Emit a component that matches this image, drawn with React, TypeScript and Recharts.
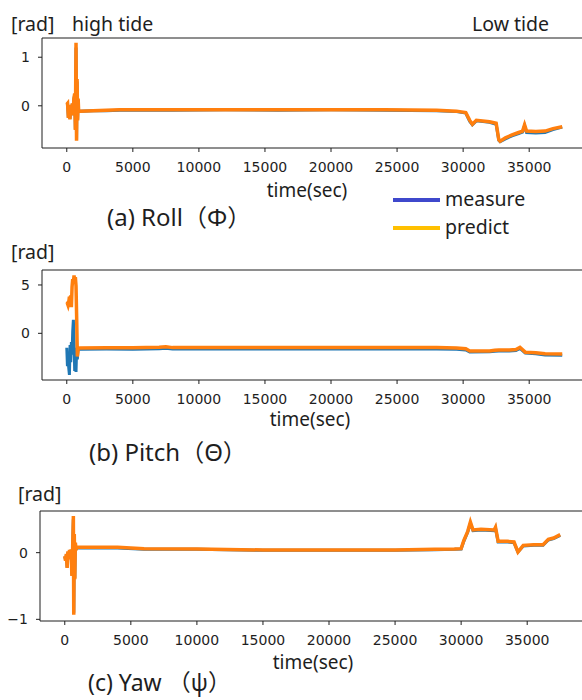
import React from "react";
import { LineChart, Line, XAxis, YAxis, ReferenceLine } from "recharts";

// time axis (sec) and attitude values [rad]
const xTicks = [0, 5000, 10000, 15000, 20000, 25000, 30000, 35000];

const rollTime = [0, 60, 120, 180, 240, 300, 360, 420, 480, 540, 600, 650, 700, 740, 780, 820, 860, 900, 1000, 2000, 3000, 4000, 8000, 12000, 16000, 20000, 24000, 28000, 29500, 30200, 30500, 30700, 31000, 32000, 32500, 32700, 32800, 33200, 33700, 34200, 34500, 34650, 34800, 35500, 36200, 36800, 37500];
const rollPredict = [0.03, 0.05, -0.25, 0.02, -0.28, 0.0, -0.12, 0.05, -0.2, 0.15, 0.25, -0.5, 1.3, -0.72, 0.55, -0.3, 0.15, -0.12, -0.11, -0.1, -0.09, -0.08, -0.08, -0.08, -0.08, -0.08, -0.08, -0.09, -0.11, -0.14, -0.3, -0.38, -0.3, -0.33, -0.36, -0.7, -0.73, -0.66, -0.6, -0.55, -0.52, -0.39, -0.52, -0.53, -0.52, -0.47, -0.43];
const rollMeasure = [0.02, 0.04, -0.24, 0.01, -0.27, 0.0, -0.11, 0.04, -0.19, 0.14, 0.22, -0.48, 1.2, -0.7, 0.5, -0.28, 0.12, -0.12, -0.11, -0.1, -0.1, -0.09, -0.09, -0.08, -0.09, -0.08, -0.09, -0.1, -0.12, -0.15, -0.32, -0.39, -0.31, -0.34, -0.38, -0.71, -0.74, -0.68, -0.62, -0.57, -0.54, -0.41, -0.55, -0.56, -0.55, -0.49, -0.44];

const pitchTime = [0, 50, 100, 150, 200, 250, 300, 350, 400, 450, 500, 550, 600, 650, 700, 750, 800, 850, 900, 1000, 3000, 5000, 7000, 7500, 8000, 12000, 16000, 20000, 24000, 28000, 29500, 30200, 30500, 32000, 32400, 32700, 33500, 34000, 34300, 34700, 35500, 36200, 37500];
const pitchPredict = [3.0, 3.1, 2.9, 3.2, 3.8, 3.6, 3.9, 2.7, 4.8, 5.6, 5.2, 6.0, 5.3, 5.8, 4.9, 1.5, -2.4, -1.8, -1.55, -1.52, -1.5, -1.5, -1.45, -1.38, -1.48, -1.48, -1.48, -1.48, -1.48, -1.48, -1.52, -1.6, -1.83, -1.83, -1.75, -1.72, -1.72, -1.68, -1.45, -1.95, -2.0, -2.12, -2.14];
const pitchMeasure = [-1.5, -3.4, -2.5, -3.6, -4.3, -1.2, -3.0, -0.9, -2.2, 0.2, 1.4, -1.0, -3.9, -2.8, -4.0, -1.5, -2.7, -1.7, -1.66, -1.64, -1.63, -1.64, -1.6, -1.55, -1.62, -1.62, -1.63, -1.62, -1.63, -1.62, -1.64, -1.72, -1.93, -1.92, -1.85, -1.82, -1.82, -1.78, -1.56, -2.05, -2.12, -2.25, -2.28];

const yawTime = [0, 60, 120, 180, 240, 300, 360, 420, 480, 540, 600, 650, 680, 720, 760, 800, 850, 930, 2000, 4000, 6000, 10000, 15000, 20000, 25000, 28000, 29500, 30000, 30200, 30500, 30700, 30900, 31500, 32500, 32600, 32800, 33500, 34000, 34300, 34700, 35500, 36200, 36600, 37000, 37500];
const yawPredict = [-0.05, -0.12, -0.02, -0.23, 0.02, -0.08, 0.04, -0.1, 0.05, -0.35, 0.1, 0.55, -0.93, 0.28, -0.4, 0.15, 0.05, 0.08, 0.08, 0.08, 0.06, 0.055, 0.04, 0.04, 0.04, 0.05, 0.055, 0.06, 0.18, 0.32, 0.46, 0.34, 0.35, 0.34, 0.38, 0.17, 0.17, 0.16, 0.01, 0.11, 0.12, 0.12, 0.2, 0.22, 0.27];
const yawMeasure = [-0.06, -0.11, -0.03, -0.22, 0.01, -0.07, 0.03, -0.09, 0.04, -0.33, 0.09, 0.5, -0.9, 0.25, -0.38, 0.13, 0.05, 0.07, 0.07, 0.07, 0.05, 0.05, 0.035, 0.035, 0.035, 0.045, 0.05, 0.055, 0.17, 0.31, 0.44, 0.33, 0.34, 0.33, 0.37, 0.16, 0.16, 0.15, 0.01, 0.1, 0.11, 0.11, 0.19, 0.21, 0.26];

const build = (time: number[], measure: number[], predict: number[]) =>
  time.map((t, i) => ({ t, measure: measure[i], predict: predict[i] }));

const fmt = (v: number) => (v < 0 ? "\u2212" + Math.abs(v) : String(v));

const INK = "#1e1e1e";
const TICK = { fontSize: 14, fill: INK, fontFamily: "DejaVu Sans" };
const X_DOMAIN: [number, number] = [-1875, 39375];

function Panel({ data, domain, ticks, top, left = 0 }: any) {
  return (
    <div style={{ position: "absolute", top: top - 6, left }}>
      <LineChart width={589} height={146} data={data} margin={{ top: 6, right: 2, bottom: 0, left: 0 }}>
        <XAxis
          dataKey="t"
          type="number"
          domain={X_DOMAIN}
          ticks={xTicks}
          allowDataOverflow
          height={30}
          tickSize={4}
          tickMargin={10}
          tick={TICK}
          stroke={INK}
        />
        <YAxis
          type="number"
          domain={domain}
          ticks={ticks}
          allowDataOverflow
          width={42}
          tickSize={4}
          tickMargin={8}
          tick={TICK}
          tickFormatter={fmt}
          stroke={INK}
        />
        <ReferenceLine y={domain[1]} stroke={INK} />
        <ReferenceLine x={X_DOMAIN[1]} stroke={INK} />
        <Line dataKey="measure" stroke="#1f77b4" strokeWidth={3} dot={false} isAnimationActive={false} />
        <Line dataKey="predict" stroke="#ff7f0e" strokeWidth={3.5} dot={false} isAnimationActive={false} />
      </LineChart>
    </div>
  );
}

function Txt({ x, y, size = 19.5, center = false, children }: any) {
  return (
    <div
      style={{
        position: "absolute",
        left: x,
        top: y,
        transform: center ? "translate(-50%, -50%)" : "translateY(-50%)",
        fontSize: size,
        lineHeight: 1.1,
        whiteSpace: "nowrap",
        color: INK,
        fontFamily: "'Noto Sans', 'Noto Sans CJK JP', sans-serif",
      }}
    >
      {children}
    </div>
  );
}

function Swatch({ y, color }: any) {
  return <div style={{ position: "absolute", left: 393, top: y - 2, width: 47, height: 4, background: color }} />;
}

export default function App() {
  return (
    <div style={{ position: "absolute", left: 0, top: 0, width: 582, height: 700, overflow: "hidden", background: "#fff" }}>
      <Panel data={build(rollTime, rollMeasure, rollPredict)} domain={[-0.869, 1.396]} ticks={[0, 1]} top={38} />
      <Panel data={build(pitchTime, pitchMeasure, pitchPredict)} domain={[-4.83, 6.55]} ticks={[0, 5]} top={270} />
      <Panel data={build(yawTime, yawMeasure, yawPredict)} domain={[-1.025, 0.625]} ticks={[-1, 0]} top={511} left={-2} />

      <Txt x={11} y={24}>[rad]</Txt>
      <Txt x={72} y={24}>high tide</Txt>
      <Txt x={472} y={24}>Low tide</Txt>
      <Txt x={307} y={190} size={19} center>time(sec)</Txt>
      <Txt x={107} y={217} size={24}>(a) Roll（Φ）</Txt>
      <Swatch y={200} color="#3f48cc" />
      <Swatch y={228} color="#ffc000" />
      <Txt x={445} y={199}>measure</Txt>
      <Txt x={445} y={227}>predict</Txt>

      <Txt x={11} y={252}>[rad]</Txt>
      <Txt x={310} y={419} size={19} center>time(sec)</Txt>
      <Txt x={89} y={452} size={24}>(b) Pitch（Θ）</Txt>

      <Txt x={18} y={494}>[rad]</Txt>
      <Txt x={313} y={662} size={19} center>time(sec)</Txt>
      <Txt x={88} y={683} size={23}>(c) Yaw （ψ）</Txt>
    </div>
  );
}
